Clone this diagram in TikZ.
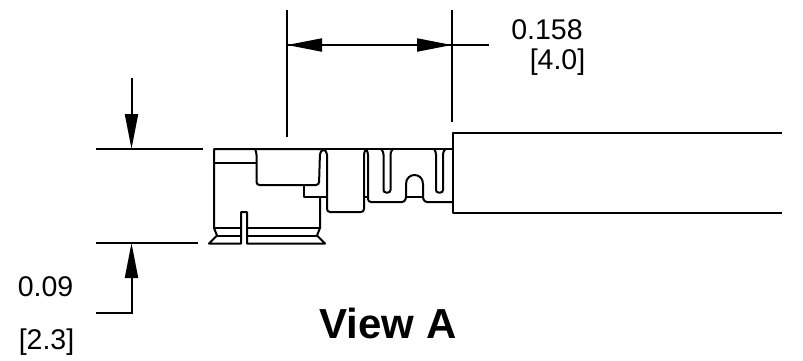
\documentclass[tikz,border=0pt]{standalone}
\usepackage{fontspec}
\setmainfont{Liberation Sans}
\usetikzlibrary{arrows.meta,positioning}
\tikzstyle{part}=[line width=2pt, line join=round]
\tikzstyle{dimline}=[line width=2pt]
\tikzstyle{dimarrow}=[line width=2pt, -{Triangle[length=35pt,width=13pt]}]
\tikzstyle{dimtext}=[inner sep=0pt, anchor=center, font=\fontsize{28.5}{28.5}\selectfont]
\tikzstyle{title}=[inner sep=0pt, anchor=center, font=\fontsize{42}{42}\selectfont\bfseries]
\begin{document}
\begin{tikzpicture}[x=1pt,y=-1pt]
\useasboundingbox (0,0) rectangle (803,360);
%Coordinates
\coordinate (extL) at (287,10);
\coordinate (extLb) at (287,137);
\coordinate (extR) at (452,10);
\coordinate (extRb) at (452,122);
\coordinate (dimL) at (287,45);
\coordinate (dimR) at (452,45);
\coordinate (dimEnd) at (489,45);
\coordinate (topA) at (96,149);
\coordinate (topB) at (203,149);
\coordinate (botA) at (96,243);
\coordinate (botB) at (198,243);
\coordinate (arT) at (131.5,78);
\coordinate (arTtip) at (131.5,149);
\coordinate (arBtip) at (131.5,243);
\coordinate (arBcor) at (131.5,313);
\coordinate (arBend) at (96,313);
%Dimensions
\draw[dimline] (extL) -- (extLb);
\draw[dimline] (extR) -- (extRb);
\draw[dimarrow] (dimR) -- (dimL);
\draw[dimarrow] (dimL) -- (dimR);
\draw[dimline] (dimR) -- (dimEnd);
\draw[dimline] (topA) -- (topB);
\draw[dimline] (botA) -- (botB);
\draw[dimarrow] (arT) -- (arTtip);
\draw[dimarrow] (arBend) -- (arBcor) -- (arBtip);
%Text
\node[dimtext](t158) at (547,30){0.158};
\node[dimtext](t40) at (557.5,62){[4.0]};
\node[dimtext](t09) at (45.5,287){0.09};
\node[dimtext](t23) at (46.5,342){[2.3]};
\node[title](view) at (388,323){View A};
%Housing
\draw[part] (320,149) -- (214,149) -- (214,228) -- (217,235.5) -- (209,243.5) -- (241,243.5) -- (241,212) -- (247,212) -- (247,243.5) -- (325,243.5) -- (317,235.5) -- (320,228) -- (320,197);
\draw[part] (214,228) -- (241,228);
\draw[part] (247,228) -- (320,228);
\draw[part] (217,235.5) -- (241,235.5);
\draw[part] (247,235.5) -- (317,235.5);
\draw[part] (214,163) -- (256.5,163);
\draw[part,rounded corners=3pt] (255,149) -- (256.5,152) -- (256.5,185) -- (319,185) -- (320,152) -- (323.5,149) -- (327,152) -- (327,212) -- (364,212) -- (364,152) -- (366,149);
\draw[part] (304,185) -- (304,197) -- (327,197);
%Contact
\draw[part] (320,149) -- (453,149);
\draw[part,rounded corners=3pt] (366,149) -- (368,152) -- (368,202) -- (405,202) -- (406,197);
\draw[part] (364,197) -- (368,197);
\draw[part,rounded corners=2.5pt] (381,149) -- (383.5,152) -- (383.5,192.5) -- (390.5,192.5) -- (390.5,152) -- (393,149);
\draw[part,rounded corners=2.5pt] (434,149) -- (436,152) -- (436,192.5) -- (443,192.5) -- (443,152) -- (445.5,149);
\draw[part] (406,197) -- (423,197);
\draw[part] (406,197) -- (406,184) .. controls (406,172) and (423,172) .. (423,184) -- (423,197);
\draw[part,rounded corners=3pt] (423,197) -- (424,202) -- (453,202);
%Cable
\draw[part] (782,133) -- (453,133) -- (453,213) -- (782,213);
\end{tikzpicture}
\end{document}
